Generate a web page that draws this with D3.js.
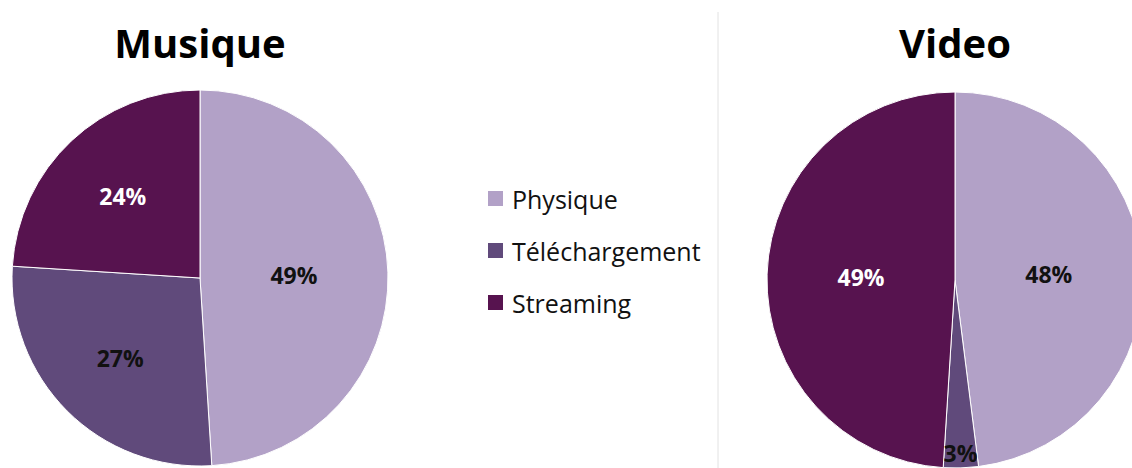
<!DOCTYPE html>
<html>
<head>
<meta charset="utf-8">
<script src="https://cdn.jsdelivr.net/npm/d3@7"></script>
<style>
  body { margin: 0; background: #fff; }
  svg { display: block; }
</style>
</head>
<body>
<script>
var w = 1132;
var h = 468;

// data
const categories = ["Physique", "Téléchargement", "Streaming"];
const chartTitles = ["Musique", "Video"];
const musiqueValues = [49, 27, 24];
const videoValues = [48, 3, 49];

const colors = ["#b2a1c7", "#604a7b", "#57134f"];
const labelColors = ["#111", "#111", "#fff"];

var svg = d3.select("body")
    .append("svg")
    .attr("width", w)
    .attr("height", h);

var color = d3.scaleOrdinal().domain(categories).range(colors);
var labelColor = d3.scaleOrdinal().domain(categories).range(labelColors);

var r = 188;
var pie = d3.pie().sort(null).value(function(d) { return d.value; });
var arc = d3.arc().innerRadius(0).outerRadius(r);

function drawPie(title, values, cx, cy) {
    var data = categories.map(function(c, i) { return { cat: c, value: values[i] }; });
    var g = svg.append("g").attr("transform", "translate(" + cx + "," + cy + ")");

    g.selectAll("path")
        .data(pie(data))
        .enter()
        .append("path")
        .attr("d", arc)
        .attr("fill", function(d) { return color(d.data.cat); })
        .attr("stroke", "#fff")
        .attr("stroke-width", 1);

    g.selectAll("text")
        .data(pie(data))
        .enter()
        .append("text")
        .attr("transform", function(d) {
            // small slices get their label pushed out to the rim
            var span = d.endAngle - d.startAngle;
            var lr = span < 0.4 ? r * 0.92 : (span > 2.5 ? r * 0.5 : r * 0.6);
            var c = d3.arc().innerRadius(lr).outerRadius(lr).centroid(d);
            return "translate(" + c[0] + "," + c[1] + ")";
        })
        .attr("text-anchor", "middle")
        .attr("dominant-baseline", "central")
        .attr("font-family", "'Open Sans', sans-serif")
        .attr("font-weight", 700)
        .attr("font-size", "23px")
        .attr("fill", function(d) { return labelColor(d.data.cat); })
        .text(function(d) { return d.data.value + "%"; });

    svg.append("text")
        .attr("x", cx)
        .attr("y", 58)
        .attr("text-anchor", "middle")
        .attr("font-family", "'Open Sans', sans-serif")
        .attr("font-weight", 700)
        .attr("font-size", "40px")
        .attr("fill", "#000")
        .text(title);
}

drawPie(chartTitles[0], musiqueValues, 200, 278);
drawPie(chartTitles[1], videoValues, 955, 280);

// divider
svg.append("line")
    .attr("x1", 718).attr("x2", 718)
    .attr("y1", 12).attr("y2", h)
    .attr("stroke", "#e2e2e2")
    .attr("stroke-width", 1);

// legend
var legendY = d3.scalePoint().domain(categories).range([198, 302]);
var legend = svg.append("g");

legend.selectAll("rect")
    .data(categories)
    .enter()
    .append("rect")
    .attr("x", 488)
    .attr("y", function(d) { return legendY(d) - 7; })
    .attr("width", 15)
    .attr("height", 15)
    .attr("fill", function(d) { return color(d); });

legend.selectAll("text")
    .data(categories)
    .enter()
    .append("text")
    .attr("x", 512)
    .attr("y", function(d) { return legendY(d) + 1; })
    .attr("dominant-baseline", "central")
    .attr("font-family", "'Open Sans', sans-serif")
    .attr("font-size", "25px")
    .attr("fill", "#111")
    .text(function(d) { return d; });
</script>
</body>
</html>
